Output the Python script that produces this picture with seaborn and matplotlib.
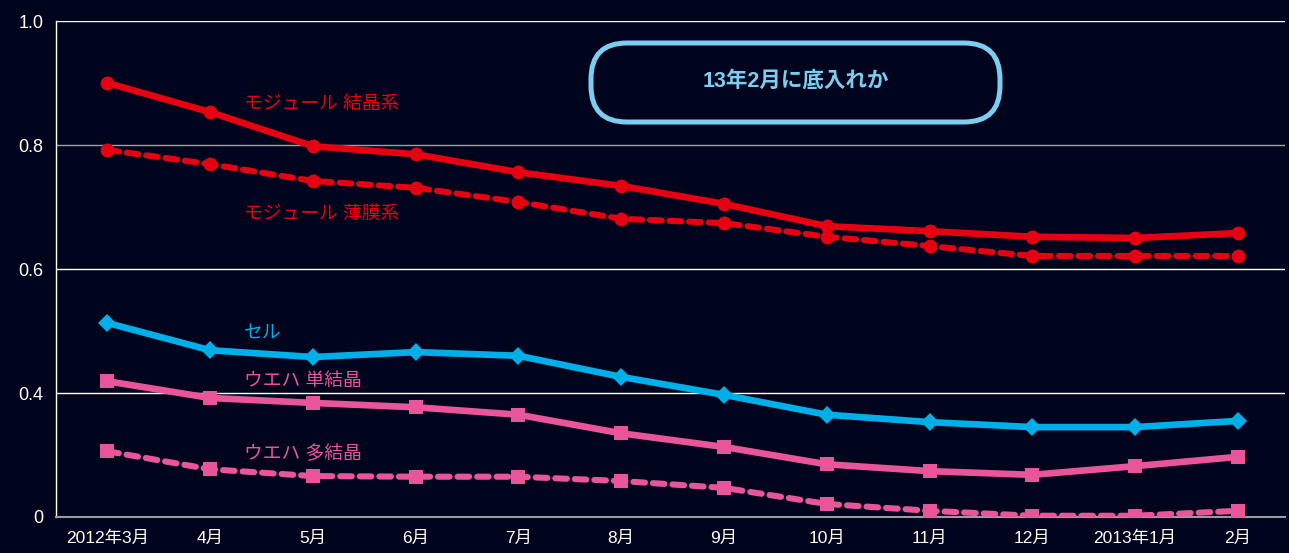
import numpy as np
import pandas as pd
import matplotlib
matplotlib.use("Agg")
import matplotlib.pyplot as plt
from matplotlib.patches import FancyBboxPatch
import seaborn as sns

# データ
months = ["2012年3月", "4月", "5月", "6月", "7月", "8月", "9月", "10月",
          "11月", "12月", "2013年1月", "2月"]
module_crystal = [0.900, 0.853, 0.798, 0.785, 0.756, 0.734, 0.705, 0.669, 0.661, 0.652, 0.650, 0.658]
module_thin = [0.792, 0.769, 0.742, 0.731, 0.708, 0.681, 0.674, 0.652, 0.637, 0.621, 0.621, 0.621]
cell = [0.513, 0.469, 0.458, 0.466, 0.460, 0.426, 0.397, 0.365, 0.353, 0.345, 0.345, 0.355]
wafer_mono = [0.419, 0.392, 0.384, 0.377, 0.365, 0.335, 0.313, 0.285, 0.274, 0.268, 0.282, 0.297]
wafer_poly = [0.306, 0.277, 0.266, 0.265, 0.265, 0.258, 0.247, 0.221, 0.210, 0.202, 0.202, 0.210]

yticks = [0.2, 0.4, 0.6, 0.8, 1.0]
ytick_labels = ["0", "0.4", "0.6", "0.8", "1.0"]

bg = "#00041c"
red = "#e60012"
cyan = "#00aee8"
pink = "#e8559a"
boxc = "#7ccdf0"

sns.set_theme(style="white")
plt.rcParams["font.family"] = ["Liberation Sans", "Noto Sans CJK JP", "DejaVu Sans"]

fig = plt.figure(figsize=(12.89, 5.53), dpi=100, facecolor=bg)
ax = fig.add_axes([0.0434, 0.0651, 0.9536, 0.8969])
ax.set_facecolor(bg)

x = np.arange(len(months))
series = [
    (module_crystal, red, "o", False, 10),
    (module_thin, red, "o", True, 10),
    (cell, cyan, "D", False, 9),
    (wafer_mono, pink, "s", False, 10),
    (wafer_poly, pink, "s", True, 10),
]

# グリッド
for v in [0.4, 0.6, 1.0]:
    ax.axhline(v, color="white", lw=1.0, zorder=1)
ax.axhline(0.8, color="#a0a0a8", lw=1.0, zorder=1)

for vals, col, mk, dashed, ms in series:
    df = pd.DataFrame({"x": x, "y": vals})
    sns.lineplot(data=df, x="x", y="y", ax=ax, color=col, marker=mk,
                 markersize=ms, markeredgewidth=0, lw=4.8 if not dashed else 4.4,
                 zorder=3)
    l = ax.lines[-1]
    if dashed:
        l.set_dashes((1.9, 1.3))
        l.set_dash_capstyle("round")
    l.set_solid_capstyle("round")

# ラベル
label_kw = dict(fontsize=13.5, va="center", ha="left")
ax.text(1.33, 0.865, "モジュール 結晶系", color=red, **label_kw)
ax.text(1.33, 0.689, "モジュール 薄膜系", color=red, **label_kw)
ax.text(1.33, 0.497, "セル", color=cyan, **label_kw)
ax.text(1.33, 0.418, "ウエハ 単結晶", color=pink, **label_kw)
ax.text(1.33, 0.302, "ウエハ 多結晶", color=pink, **label_kw)

# 注釈ボックス（インチ座標）
box = FancyBboxPatch((5.91, 4.31), 4.09, 0.79,
                     boxstyle="round,pad=0,rounding_size=0.36",
                     transform=fig.dpi_scale_trans,
                     fc=bg, ec=boxc, lw=3.6, zorder=4)
fig.patches.append(box)
fig.text(7.955 / 12.89, 4.72 / 5.53, "13年2月に底入れか", color=boxc, fontsize=15.5,
         fontweight="bold", ha="center", va="center", zorder=5)

ax.set_xlim(-0.5, 11.46)
ax.set_ylim(0.2, 1.0)
ax.set_xticks(x)
ax.set_xticklabels(months)
ax.set_yticks(yticks)
ax.set_yticklabels(ytick_labels)
ax.set_xlabel("")
ax.set_ylabel("")
ax.tick_params(axis="both", colors="white", length=6, width=1, direction="out")
ax.tick_params(axis="x", colors="#9a9aa2", labelcolor="white", labelsize=12.5, pad=4)
ax.tick_params(axis="y", colors="white", labelcolor="white", labelsize=13, pad=3)

for s in ["top", "right"]:
    ax.spines[s].set_visible(False)
ax.spines["left"].set_color("white")
ax.spines["left"].set_linewidth(1.0)
ax.spines["bottom"].set_color("#9a9aa2")
ax.spines["bottom"].set_linewidth(1.5)

fig.savefig("out.png", dpi=100, facecolor=bg)
